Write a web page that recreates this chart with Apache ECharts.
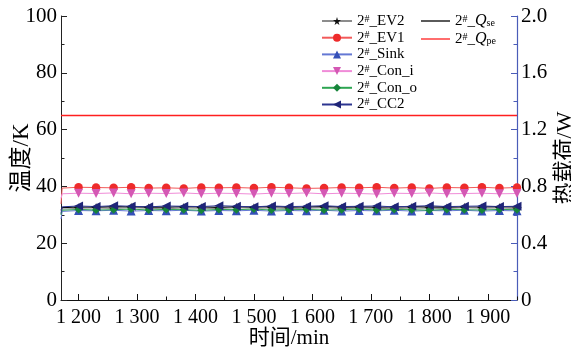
<!DOCTYPE html>
<html>
<head>
<meta charset="utf-8">
<script src="https://cdn.jsdelivr.net/npm/echarts@6/dist/echarts.min.js"></script>
<style>html,body{margin:0;padding:0;background:#fff;}#c{width:571px;height:351px;}</style>
</head>
<body>
<div id="c"></div>
<script>
// time (min)
const times = [1170, 1172, 1200, 1230, 1260, 1290, 1320, 1350, 1380, 1410, 1440, 1470, 1500, 1530, 1560, 1590, 1620, 1650, 1680, 1710, 1740, 1770, 1800, 1830, 1860, 1890, 1920, 1950];
// temperatures (K)
const ev2  = [30.2, 32.0, 32.3, 32.4, 32.2, 32.5, 32.3, 32.1, 32.4, 32.3, 32.2, 32.5, 32.3, 32.4, 32.2, 32.3, 32.5, 32.2, 32.4, 32.3, 32.1, 32.4, 32.3, 32.2, 32.5, 32.3, 32.4, 32.2];
const ev1  = [33.8, 39.4, 39.7, 39.6, 39.5, 39.7, 39.4, 39.5, 39.3, 39.6, 39.5, 39.6, 39.4, 39.7, 39.5, 39.3, 39.4, 39.6, 39.5, 39.7, 39.4, 39.6, 39.3, 39.6, 39.5, 39.7, 39.4, 39.6];
const sink = [28.5, 31.2, 31.5, 31.4, 31.6, 31.3, 31.5, 31.4, 31.6, 31.3, 31.5, 31.4, 31.6, 31.3, 31.5, 31.4, 31.6, 31.3, 31.5, 31.4, 31.6, 31.3, 31.5, 31.4, 31.6, 31.3, 31.5, 31.4];
const coni = [35.8, 37.4, 37.6, 37.5, 37.7, 37.4, 37.6, 37.5, 37.7, 37.4, 37.6, 37.5, 37.3, 37.6, 37.5, 37.7, 37.4, 37.6, 37.5, 37.3, 37.6, 37.5, 37.7, 37.4, 37.5, 37.6, 37.4, 37.5];
const cono = [30.0, 31.6, 31.9, 31.7, 31.8, 32.0, 31.7, 31.9, 31.8, 31.6, 31.9, 31.8, 32.0, 31.7, 31.8, 31.9, 31.7, 31.8, 32.0, 31.7, 31.9, 31.8, 31.6, 31.9, 31.8, 31.7, 31.9, 31.8];
const cc2  = [30.5, 32.8, 33.1, 32.9, 33.2, 33.0, 32.8, 33.1, 33.0, 32.9, 33.2, 33.0, 32.8, 33.1, 32.9, 33.0, 33.2, 32.9, 33.0, 33.1, 32.8, 33.0, 33.2, 32.9, 33.0, 33.1, 32.9, 33.0];
// heat loads (W)
const qse  = [0.63, 0.65, 0.655, 0.652, 0.658, 0.654, 0.656, 0.653, 0.657, 0.655, 0.652, 0.656, 0.654, 0.657, 0.653, 0.655, 0.658, 0.654, 0.656, 0.653, 0.655, 0.657, 0.654, 0.656, 0.653, 0.655, 0.657, 0.655];
const qpe  = [1.30, 1.30, 1.30, 1.30, 1.30, 1.30, 1.30, 1.30, 1.30, 1.30, 1.30, 1.30, 1.30, 1.30, 1.30, 1.30, 1.30, 1.30, 1.30, 1.30, 1.30, 1.30, 1.30, 1.30, 1.30, 1.30, 1.30, 1.30];
// axis ticks
const xMin = 1170, xMax = 1950, xStep = 10;
const leftTicks = [0, 20, 40, 60, 80, 100];
const rightTicks = ['0', '0.4', '0.8', '1.2', '1.6', '2.0'];

const FONT = '"Liberation Serif", "Noto Sans CJK SC", serif';
const STAR = 'path://M50,0 L61,35 L98,35 L68,57 L79,91 L50,70 L21,91 L32,57 L2,35 L39,35 Z';

const cats = [];
for (let t = xMin; t <= xMax; t += xStep) cats.push(t);

function pts(vals, marker) {
  return vals.map((v, i) => (i < 2 || !marker) ? { value: [times[i], v], symbol: 'none' } : [times[i], v]);
}
function tSeries(name, vals, lineColor, markColor, symbol, size, rotate) {
  return {
    name, type: 'line', xAxisIndex: 0, yAxisIndex: 0, data: pts(vals, true),
    symbol, symbolSize: size, symbolRotate: rotate || 0, showAllSymbol: true,
    lineStyle: { color: lineColor, width: 1 },
    itemStyle: { color: markColor },
    animation: false, clip: false, z: 3
  };
}
function qSeries(name, vals, color, w) {
  return {
    name, type: 'line', xAxisIndex: 0, yAxisIndex: 1, data: pts(vals, false),
    symbol: 'none', lineStyle: { color, width: w }, itemStyle: { color },
    animation: false, z: 2
  };
}

const rich = {
  sup: { fontSize: 10, verticalAlign: 'top', fontFamily: FONT, color: '#000', lineHeight: 10 },
  sub: { fontSize: 10, verticalAlign: 'bottom', fontFamily: FONT, color: '#000', lineHeight: 10, padding: [5, 0, 0, 0] },
  it: { fontSize: 16, fontStyle: 'italic', fontFamily: FONT, color: '#000', lineHeight: 14 }
};

const chart = echarts.init(document.getElementById('c'), null, { renderer: 'canvas' });
chart.setOption({
  backgroundColor: '#fff',
  animation: false,
  grid: { left: 61, right: 54, top: 16, bottom: 51, containLabel: false, outerBoundsMode: 'none' },
  legend: [
    {
      data: ['2#_EV2', '2#_EV1', '2#_Sink', '2#_Con_i', '2#_Con_o', '2#_CC2'],
      orient: 'vertical', left: 316, top: 8.5, itemWidth: 30, itemHeight: 10, itemGap: 1.7,
      textStyle: { fontFamily: FONT, fontSize: 15, lineHeight: 14, color: '#000', rich },
      formatter: n => n.replace('#', '{sup|#}')
    },
    {
      data: [{ name: '2#_Qse', icon: 'rect' }, { name: '2#_Qpe', icon: 'rect' }],
      orient: 'vertical', left: 416, top: 8, itemWidth: 29, itemHeight: 1.3, itemGap: 2,
      textStyle: { fontFamily: FONT, fontSize: 15, lineHeight: 14, color: '#000', rich },
      formatter: n => '2{sup|#}_{it|Q}{sub|' + n.slice(4) + '}'
    }
  ],
  xAxis: [
    {
      type: 'value', min: xMin, max: xMax, position: 'bottom',
      axisLine: { show: true, lineStyle: { color: '#111', width: 1 } },
      axisTick: { show: false }, axisLabel: { show: false }, splitLine: { show: false },
      name: '时间/min', nameLocation: 'middle', nameGap: 28, nameMoveOverlap: false,
      nameTextStyle: { fontFamily: FONT, fontSize: 21, color: '#000' }
    },
    {
      type: 'category', data: cats, boundaryGap: false, position: 'bottom',
      axisLine: { show: false },
      axisTick: { show: true, inside: true, length: 6, lineStyle: { color: '#111' },
        interval: (i, v) => Number(v) % 100 === 0 },
      axisLabel: { show: true, margin: 8, fontFamily: FONT, fontSize: 20, color: '#000',
        interval: (i, v) => Number(v) % 100 === 0,
        formatter: v => '1 ' + String(Number(v) - 1000) },
      splitLine: { show: false }
    },
    {
      type: 'category', data: cats, boundaryGap: false, position: 'bottom',
      axisLine: { show: false },
      axisTick: { show: true, inside: true, length: 3.5, lineStyle: { color: '#111' },
        interval: (i, v) => Number(v) % 100 === 50 },
      axisLabel: { show: false }, splitLine: { show: false }
    }
  ],
  yAxis: [
    {
      type: 'value', min: 0, max: 100, interval: 20, position: 'left',
      axisLine: { show: true, lineStyle: { color: '#222', width: 1 } },
      axisTick: { show: true, inside: true, length: 6, lineStyle: { color: '#222' } },
      minorTick: { show: true, splitNumber: 2, length: 3.5, lineStyle: { color: '#222' } },
      axisLabel: { margin: 4, fontFamily: FONT, fontSize: 21, color: '#000',
        formatter: v => String(leftTicks[Math.round(v / 20)]) },
      splitLine: { show: false },
      name: '温度/K', nameLocation: 'middle', nameGap: 28, nameRotate: 90, nameMoveOverlap: false,
      nameTextStyle: { fontFamily: FONT, fontSize: 23, color: '#000' }
    },
    {
      type: 'value', min: 0, max: 2, interval: 0.4, position: 'right',
      axisLine: { show: true, lineStyle: { color: '#4a5cb8', width: 1.2 } },
      axisTick: { show: true, inside: true, length: 6, lineStyle: { color: '#4a5cb8' } },
      minorTick: { show: true, splitNumber: 2, length: 3.5, lineStyle: { color: '#4a5cb8' } },
      axisLabel: { margin: 4, fontFamily: FONT, fontSize: 21, color: '#000',
        formatter: v => rightTicks[Math.round(v / 0.4)] },
      splitLine: { show: false },
      name: '热载荷/W', nameLocation: 'middle', nameGap: 37, nameRotate: 90, nameMoveOverlap: false,
      nameTextStyle: { fontFamily: FONT, fontSize: 22, color: '#000' }
    }
  ],
  series: [
    qSeries('2#_Qse', qse, '#000000', 1.2),
    qSeries('2#_Qpe', qpe, '#ff1f1f', 1.5),
    tSeries('2#_EV2', ev2, '#8c8c8c', '#111111', STAR, 10, 0),
    tSeries('2#_EV1', ev1, '#f25a5a', '#ee2b2b', 'circle', 8.5, 0),
    tSeries('2#_Sink', sink, '#6478d4', '#3550b8', 'triangle', 9, 0),
    tSeries('2#_Con_i', coni, '#f08cd8', '#d458b4', 'triangle', 9, 180),
    tSeries('2#_Con_o', cono, '#2da552', '#16853a', 'diamond', 8, 0),
    tSeries('2#_CC2', cc2, '#2c3590', '#1f2578', 'triangle', 9, 90)
  ]
});
</script>
</body>
</html>
